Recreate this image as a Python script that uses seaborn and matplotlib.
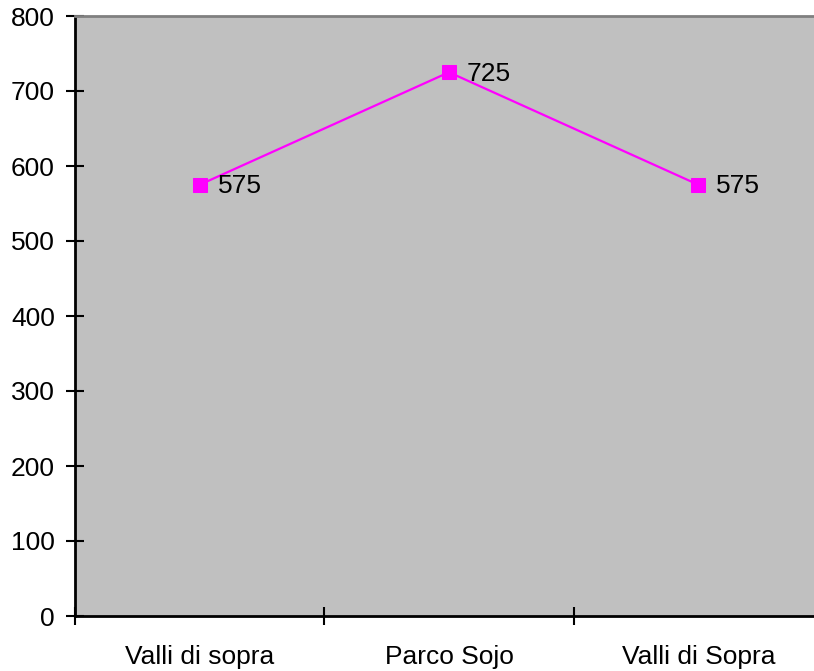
import matplotlib
matplotlib.use("Agg")
import matplotlib.pyplot as plt
import seaborn as sns
import pandas as pd

categories = ["Valli di sopra", "Parco Sojo", "Valli di Sopra"]
values = [575, 725, 575]
yticks = [0, 100, 200, 300, 400, 500, 600, 700, 800]

sns.set_style("white")
plt.rcParams['font.family'] = ['Liberation Sans', 'DejaVu Sans']
plt.rcParams['text.color'] = 'black'
plt.rcParams['xtick.color'] = 'black'
plt.rcParams['ytick.color'] = 'black'

FS = 19
W, H = 814, 671
fig = plt.figure(figsize=(W/100, H/100), dpi=100)
ax = fig.add_axes([75/W, (H-616)/H, 748/W, 600/H])
ax.set_facecolor('#C0C0C0')

df = pd.DataFrame({"x": range(len(categories)), "y": values})
sns.lineplot(data=df, x="x", y="y", ax=ax, color='#FF00FF', linewidth=1.6,
             marker='s', markersize=10.5, markeredgecolor='#FF00FF')

for i, v in enumerate(values):
    ax.annotate(str(v), (i, v), xytext=(13, -1), textcoords='offset points',
                va='center', ha='left', fontsize=FS, color='black')

ax.set_xlim(-0.5, len(categories) - 0.5)
ax.set_ylim(0, 800)
ax.set_yticks(yticks)
ax.set_yticklabels([str(t) for t in yticks], fontsize=FS)
ax.set_xticks([i - 0.5 for i in range(len(categories) + 1)])
ax.set_xticklabels([])
ax.set_xticks(range(len(categories)), minor=True)
ax.set_xticklabels(categories, minor=True, fontsize=FS)
ax.tick_params(axis='x', which='minor', bottom=True, length=0, pad=21, labelcolor='black')
ax.tick_params(axis='x', which='major', bottom=True, direction='inout', length=13, width=1.5, color='black')
ax.tick_params(axis='y', left=True, direction='inout', length=13, width=1.5, color='black', pad=8, labelcolor='black')
ax.set_xlabel('')
ax.set_ylabel('')

for s in ['left', 'bottom']:
    ax.spines[s].set_color('black')
    ax.spines[s].set_linewidth(2)
ax.spines['top'].set_color('#808080')
ax.spines['top'].set_linewidth(2)
ax.spines['right'].set_visible(False)

fig.savefig('out.png', dpi=100)
